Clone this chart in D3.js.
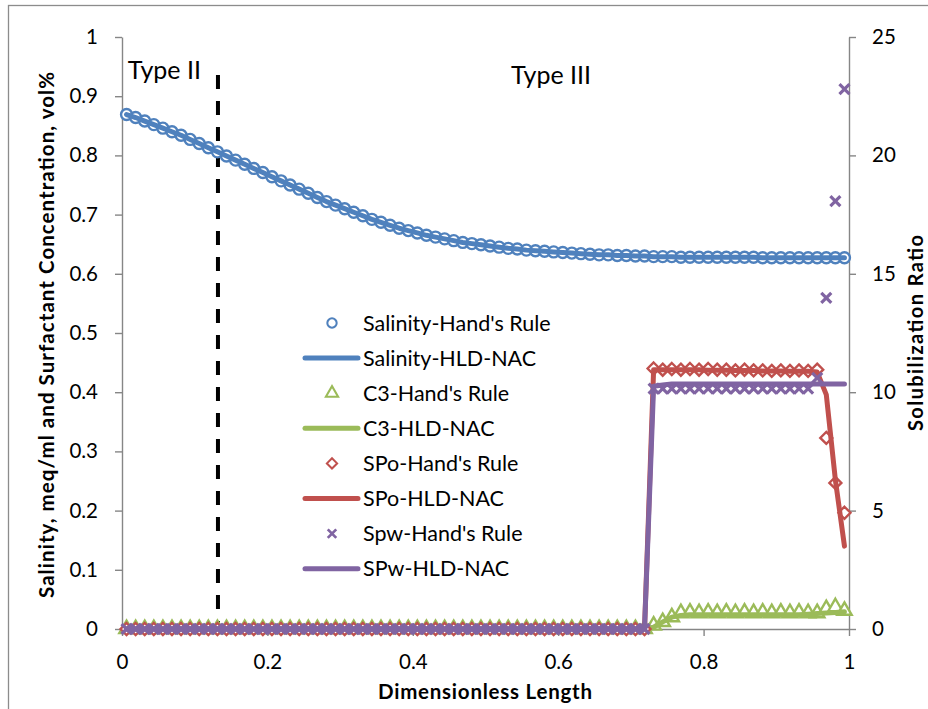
<!DOCTYPE html>
<html>
<head>
<meta charset="utf-8">
<script src="https://cdn.jsdelivr.net/npm/d3@7/dist/d3.min.js"></script>
<style>
  html, body { margin: 0; padding: 0; background: #fff; }
  svg { display: block; font-family: Lato, "Open Sans", sans-serif; }
</style>
</head>
<body>
<svg id="chart" width="928" height="709"></svg>
<script>
// Grid-block centres along the core (dimensionless length)
const lengths = [
  0.00625,0.01875,0.03125,0.04375,0.05625,0.06875,0.08125,0.09375,0.10625,0.11875,
  0.13125,0.14375,0.15625,0.16875,0.18125,0.19375,0.20625,0.21875,0.23125,0.24375,
  0.25625,0.26875,0.28125,0.29375,0.30625,0.31875,0.33125,0.34375,0.35625,0.36875,
  0.38125,0.39375,0.40625,0.41875,0.43125,0.44375,0.45625,0.46875,0.48125,0.49375,
  0.50625,0.51875,0.53125,0.54375,0.55625,0.56875,0.58125,0.59375,0.60625,0.61875,
  0.63125,0.64375,0.65625,0.66875,0.68125,0.69375,0.70625,0.71875,0.73125,0.74375,
  0.75625,0.76875,0.78125,0.79375,0.80625,0.81875,0.83125,0.84375,0.85625,0.86875,
  0.88125,0.89375,0.90625,0.91875,0.93125,0.94375,0.95625,0.96875,0.98125,0.99375
];

// Salinity, meq/ml (left axis)
const salinityHand = [
  0.869,0.864,0.858,0.852,0.846,0.840,0.834,0.827,0.820,0.813,
  0.806,0.799,0.792,0.785,0.778,0.771,0.764,0.757,0.750,0.743,
  0.736,0.729,0.722,0.716,0.710,0.704,0.698,0.692,0.687,0.682,
  0.677,0.673,0.669,0.665,0.662,0.659,0.656,0.653,0.651,0.649,
  0.647,0.645,0.643,0.642,0.640,0.639,0.638,0.637,0.636,0.635,
  0.634,0.633,0.632,0.632,0.631,0.631,0.630,0.630,0.629,0.629,
  0.629,0.628,0.628,0.628,0.628,0.628,0.628,0.628,0.628,0.628,
  0.627,0.627,0.627,0.627,0.627,0.627,0.627,0.627,0.627,0.627
];
const salinityHLD = [
  0.869,0.864,0.858,0.852,0.846,0.840,0.834,0.827,0.820,0.813,
  0.806,0.799,0.792,0.785,0.778,0.771,0.764,0.757,0.750,0.743,
  0.736,0.729,0.722,0.716,0.710,0.704,0.698,0.692,0.687,0.682,
  0.677,0.673,0.669,0.665,0.662,0.659,0.656,0.653,0.651,0.649,
  0.647,0.645,0.643,0.642,0.640,0.639,0.638,0.637,0.636,0.635,
  0.634,0.633,0.632,0.632,0.631,0.631,0.630,0.630,0.629,0.629,
  0.629,0.628,0.628,0.628,0.628,0.628,0.628,0.628,0.628,0.628,
  0.627,0.627,0.627,0.627,0.627,0.627,0.627,0.627,0.627,0.627
];

// Surfactant concentration C3, vol% (left axis)
const c3Hand = [
  0,0,0,0,0,0,0,0,0,0, 0,0,0,0,0,0,0,0,0,0,
  0,0,0,0,0,0,0,0,0,0, 0,0,0,0,0,0,0,0,0,0,
  0,0,0,0,0,0,0,0,0,0, 0,0,0,0,0,0,0,0,0.006,0.012,
  0.020,0.027,0.028,0.027,0.028,0.027,0.028,0.027,0.028,0.027,
  0.028,0.027,0.028,0.027,0.028,0.027,0.027,0.034,0.037,0.031
];
const c3HLD = [
  0,0,0,0,0,0,0,0,0,0, 0,0,0,0,0,0,0,0,0,0,
  0,0,0,0,0,0,0,0,0,0, 0,0,0,0,0,0,0,0,0,0,
  0,0,0,0,0,0,0,0,0,0, 0,0,0,0,0,0,0,0,0.003,0.012,
  0.020,0.023,0.024,0.024,0.024,0.024,0.024,0.024,0.024,0.024,
  0.024,0.024,0.024,0.024,0.024,0.025,0.026,0.027,0.028,0.029
];

// Solubilization ratios (right axis)
const spoHand = [
  0,0,0,0,0,0,0,0,0,0, 0,0,0,0,0,0,0,0,0,0,
  0,0,0,0,0,0,0,0,0,0, 0,0,0,0,0,0,0,0,0,0,
  0,0,0,0,0,0,0,0,0,0, 0,0,0,0,0,0,0,0,11.0,10.95,
  10.98,10.95,10.98,10.95,10.98,10.95,10.95,10.92,10.95,10.92,
  10.92,10.9,10.92,10.9,10.92,10.9,10.95,8.07,6.17,4.91
];
const spoHLD = [
  0,0,0,0,0,0,0,0,0,0, 0,0,0,0,0,0,0,0,0,0,
  0,0,0,0,0,0,0,0,0,0, 0,0,0,0,0,0,0,0,0,0,
  0,0,0,0,0,0,0,0,0,0, 0,0,0,0,0,0,0,0,10.95,10.95,
  10.95,10.95,10.95,10.95,10.93,10.93,10.93,10.92,10.92,10.92,
  10.9,10.9,10.9,10.88,10.88,10.88,10.85,9.9,6.3,3.5
];
const spwHand = [
  0,0,0,0,0,0,0,0,0,0, 0,0,0,0,0,0,0,0,0,0,
  0,0,0,0,0,0,0,0,0,0, 0,0,0,0,0,0,0,0,0,0,
  0,0,0,0,0,0,0,0,0,0, 0,0,0,0,0,0,0,0,10.15,10.15,
  10.15,10.15,10.15,10.15,10.15,10.15,10.15,10.15,10.15,10.15,
  10.15,10.15,10.15,10.15,10.15,10.15,10.6,13.98,18.07,22.8
];
const spwHLD = [
  0,0,0,0,0,0,0,0,0,0, 0,0,0,0,0,0,0,0,0,0,
  0,0,0,0,0,0,0,0,0,0, 0,0,0,0,0,0,0,0,0,0,
  0,0,0,0,0,0,0,0,0,0, 0,0,0,0,0,0,0,0,10.25,10.3,
  10.35,10.35,10.35,10.35,10.35,10.35,10.35,10.35,10.35,10.35,
  10.35,10.35,10.35,10.35,10.35,10.35,10.35,10.35,10.35,10.35
];

// Axis ticks and annotations
const xTicks = [0, 0.2, 0.4, 0.6, 0.8, 1];
const leftTicks = [0, 0.1, 0.2, 0.3, 0.4, 0.5, 0.6, 0.7, 0.8, 0.9, 1];
const rightTicks = [0, 5, 10, 15, 20, 25];
const typeBoundary = 0.132;
const regionLabels = [
  { text: "Type II", at: 0.008, baseline: 79 },
  { text: "Type III", at: 0.535, baseline: 84 }
];

const colors = { blue: "#4F81BD", green: "#9BBB59", red: "#C0504D", purple: "#8064A2" };

const svg = d3.select("#chart");

// outer chart-area frame
svg.append("rect")
  .attr("x", 8.5).attr("y", 5.5).attr("width", 1000).attr("height", 1000)
  .attr("fill", "none").attr("stroke", "#8c8c8c").attr("stroke-width", 1.3);

const plot = { left: 122, right: 849, top: 37, bottom: 629 };
const x = d3.scaleLinear().domain([0, 1]).range([plot.left, plot.right]);
const yL = d3.scaleLinear().domain([0, 1]).range([plot.bottom, plot.top]);
const yR = d3.scaleLinear().domain([0, 25]).range([plot.bottom, plot.top]);

const axisColor = "#868686";
function styleAxis(g) {
  g.selectAll("path.domain").attr("stroke", axisColor).attr("stroke-width", 1.4);
  g.selectAll(".tick line").attr("stroke", axisColor).attr("stroke-width", 1.4);
  g.selectAll(".tick text").attr("fill", "#000").style("font-size", "20.5px")
    .style("font-family", "Lato, 'Open Sans', sans-serif");
}

const fmt = d => String(+d.toFixed(1));

svg.append("g")
  .attr("transform", `translate(0,${plot.bottom})`)
  .call(d3.axisBottom(x).tickValues(xTicks).tickFormat(fmt).tickSize(7).tickSizeOuter(0).tickPadding(18))
  .call(styleAxis);

svg.append("g")
  .attr("transform", `translate(${plot.left},0)`)
  .call(d3.axisLeft(yL).tickValues(leftTicks).tickFormat(fmt).tickSize(7).tickSizeOuter(0).tickPadding(17))
  .call(styleAxis);

svg.append("g")
  .attr("transform", `translate(${plot.right},0)`)
  .call(d3.axisRight(yR).tickValues(rightTicks).tickFormat(fmt).tickSize(7).tickSizeOuter(0).tickPadding(16))
  .call(styleAxis);

// axis titles
svg.append("text")
  .attr("transform", `translate(54,${(plot.top + plot.bottom) / 2 + 2}) rotate(-90)`)
  .attr("text-anchor", "middle")
  .attr("textLength", 526).attr("lengthAdjust", "spacing")
  .style("font-weight", "bold").style("font-size", "20.5px")
  .text("Salinity, meq/ml and Surfactant Concentration, vol%");

svg.append("text")
  .attr("transform", `translate(923,${(plot.top + plot.bottom) / 2}) rotate(-90)`)
  .attr("text-anchor", "middle")
  .attr("textLength", 196).attr("lengthAdjust", "spacing")
  .style("font-weight", "bold").style("font-size", "20px")
  .text("Solubilization Ratio");

svg.append("text")
  .attr("x", 485).attr("y", 699)
  .attr("text-anchor", "middle")
  .attr("textLength", 214).attr("lengthAdjust", "spacing")
  .style("font-weight", "bold").style("font-size", "20.5px")
  .text("Dimensionless Length");

// Type II / Type III boundary
svg.append("line")
  .attr("x1", x(typeBoundary)).attr("x2", x(typeBoundary))
  .attr("y1", 75).attr("y2", plot.bottom)
  .attr("stroke", "#000").attr("stroke-width", 4)
  .attr("stroke-dasharray", "14,12");

svg.selectAll("text.region")
  .data(regionLabels)
  .join("text")
  .attr("class", "region")
  .attr("x", d => x(d.at)).attr("y", d => d.baseline)
  .style("font-size", "25px")
  .text(d => d.text);

// marker shapes
const shapes = {
  circle: d3.symbol(d3.symbolCircle, 95)(),
  triangle: d3.symbol(d3.symbolTriangle, 90)(),
  diamond: "M0,-6L6,0L0,6L-6,0Z",
  cross: "M-5,-5L5,5M-5,5L5,-5"
};

const series = [
  { name: "Salinity-Hand's Rule", kind: "marker", shape: "circle", color: colors.blue, values: salinityHand, y: yL },
  { name: "Salinity-HLD-NAC", kind: "line", color: colors.blue, values: salinityHLD, y: yL },
  { name: "C3-Hand's Rule", kind: "marker", shape: "triangle", color: colors.green, values: c3Hand, y: yL },
  { name: "C3-HLD-NAC", kind: "line", color: colors.green, values: c3HLD, y: yL },
  { name: "SPo-Hand's Rule", kind: "marker", shape: "diamond", color: colors.red, values: spoHand, y: yR },
  { name: "SPo-HLD-NAC", kind: "line", color: colors.red, values: spoHLD, y: yR },
  { name: "Spw-Hand's Rule", kind: "marker", shape: "cross", color: colors.purple, values: spwHand, y: yR },
  { name: "SPw-HLD-NAC", kind: "line", color: colors.purple, values: spwHLD, y: yR }
];

function markerStyle(sel, s) {
  sel.attr("d", shapes[s.shape])
    .attr("fill", s.shape === "cross" ? "none" : "#fff")
    .attr("stroke", s.color)
    .attr("stroke-width", s.shape === "cross" ? 3.2 : 2.4);
}

const plotG = svg.append("g");
series.forEach(s => {
  const pts = s.values.map((v, i) => [lengths[i], v]);
  if (s.kind === "line") {
    plotG.append("path")
      .datum(pts)
      .attr("fill", "none").attr("stroke", s.color).attr("stroke-width", 5)
      .attr("stroke-linejoin", "round").attr("stroke-linecap", "round")
      .attr("d", d3.line().x(d => x(d[0])).y(d => s.y(d[1])));
  } else {
    plotG.append("g").selectAll("path")
      .data(pts)
      .join("path")
      .attr("transform", d => `translate(${x(d[0])},${s.y(d[1])})`)
      .call(markerStyle, s);
  }
});

// legend
const legend = svg.append("g").attr("transform", "translate(303,323)");
const rowH = 35.1;
series.forEach((s, i) => {
  const g = legend.append("g").attr("transform", `translate(0,${i * rowH})`);
  if (s.kind === "line") {
    g.append("line").attr("x1", 2).attr("x2", 55).attr("y1", 0).attr("y2", 0)
      .attr("stroke", s.color).attr("stroke-width", 5).attr("stroke-linecap", "round");
  } else {
    g.append("path")
      .attr("transform", "translate(29,0) scale(0.85)")
      .call(markerStyle, s);
  }
  g.append("text")
    .attr("x", 60).attr("y", 0).attr("dy", "0.35em")
    .style("font-size", "21.5px")
    .text(s.name);
});
</script>
</body>
</html>
